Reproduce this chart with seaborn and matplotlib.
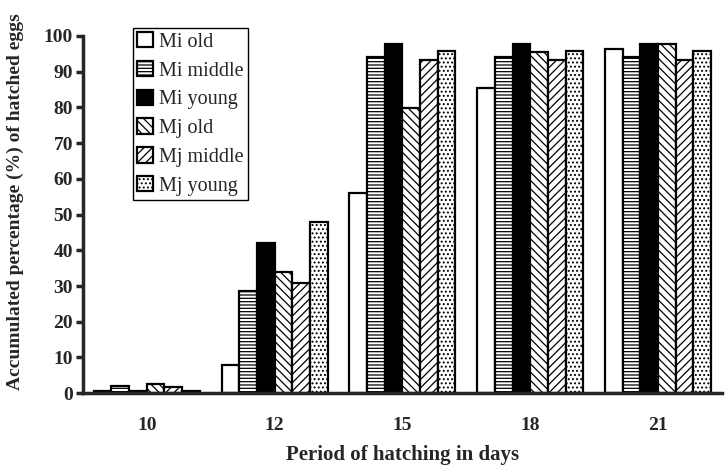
import matplotlib
matplotlib.use("Agg")
import matplotlib.pyplot as plt
import seaborn as sns
import pandas as pd

days = ["10", "12", "15", "18", "21"]
series = ["Mi old", "Mi middle", "Mi young", "Mj old", "Mj middle", "Mj young"]
mi_old = [0.7, 8.0, 56.0, 85.5, 96.3]
mi_middle = [1.9, 28.6, 94.0, 94.0, 94.0]
mi_young = [0.5, 42.0, 97.8, 97.8, 97.8]
mj_old = [2.5, 33.8, 79.8, 95.5, 97.8]
mj_middle = [1.6, 30.8, 93.2, 93.2, 93.2]
mj_young = [0.7, 48.0, 95.7, 95.7, 95.7]
values = [mi_old, mi_middle, mi_young, mj_old, mj_middle, mj_young]

rows = []
for s, vals in zip(series, values):
    for d, v in zip(days, vals):
        rows.append({"day": d, "series": s, "value": v})
df = pd.DataFrame(rows)

sns.set_style("ticks")
plt.rcParams["font.family"] = ["Liberation Serif", "DejaVu Serif"]
plt.rcParams["hatch.linewidth"] = 0.9

fig = plt.figure(figsize=(7.27, 4.67), dpi=100)
ax = fig.add_axes([0.114, 0.158, 0.879, 0.765])

face = ["white", "white", "black", "white", "white", "white"]
hatches = [None, "-----", None, "\\\\\\\\", "////", "...."]

sns.barplot(data=df, x="day", y="value", hue="series", order=days,
            hue_order=series, width=0.83, palette=["white"] * 6,
            edgecolor="black", linewidth=1.6, ax=ax, legend=False, errorbar=None)

for cont, fc, h in zip(ax.containers, face, hatches):
    for p in cont.patches:
        p.set_facecolor(fc)
        p.set_edgecolor("black")
        if h:
            p.set_hatch(h)

ax.set_ylim(0, 100)
ax.set_xlim(-0.5, 4.5)
ax.set_yticks(range(0, 101, 10))
for s in ["top", "right"]:
    ax.spines[s].set_visible(False)
for s in ["left", "bottom"]:
    ax.spines[s].set_linewidth(2.5)
ax.tick_params(axis="y", length=5, width=2.5, labelsize=14, pad=2)
ax.tick_params(axis="x", length=0, labelsize=14, pad=17)
for lab in ax.get_xticklabels() + ax.get_yticklabels():
    lab.set_fontweight("bold")
ax.set_xlabel("Period of hatching in days", fontsize=15, fontweight="bold", labelpad=8)
ax.set_ylabel("Accumulated percentage (%) of hatched eggs", fontsize=14,
              fontweight="bold")
ax.yaxis.set_label_coords(-0.092, 0.535)

handles = [cont.patches[0] for cont in ax.containers]
leg = ax.legend(handles, series, loc="upper left",
                bbox_to_anchor=(0.183, 0.94), bbox_transform=fig.transFigure,
                frameon=True, fancybox=False, edgecolor="black", framealpha=1,
                fontsize=14.5, handlelength=0.8, handleheight=0.8,
                handletextpad=0.3, labelspacing=0.45, borderpad=0.2,
                borderaxespad=0)
leg.get_frame().set_linewidth(1.0)

fig.savefig("out.png", dpi=100)
